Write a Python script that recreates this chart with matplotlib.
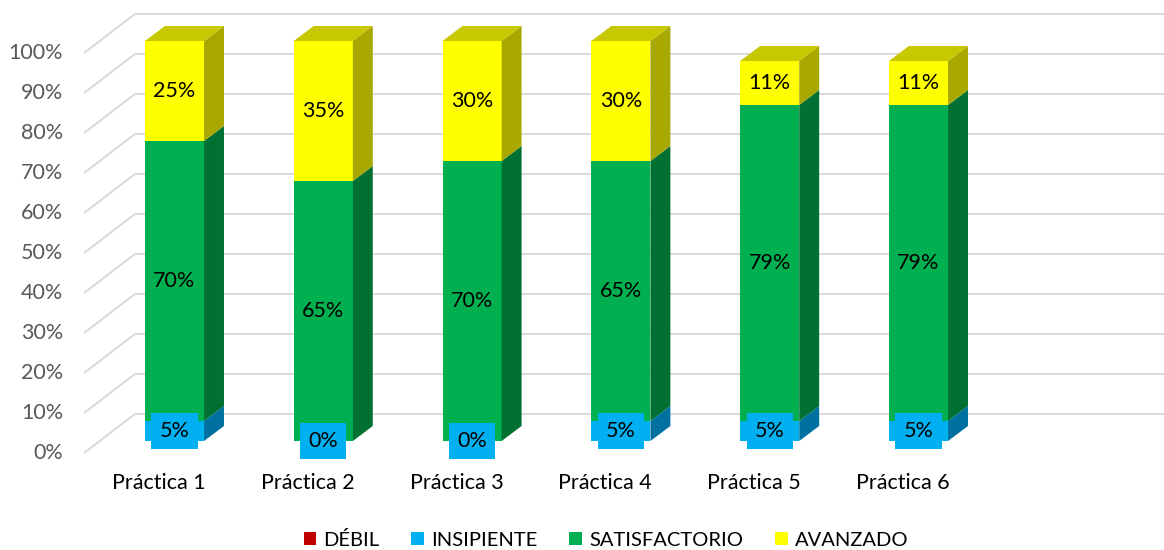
import matplotlib
matplotlib.use("Agg")
import matplotlib.pyplot as plt
from matplotlib.patches import Polygon, Patch

plt.rcParams['font.family'] = ['Lato', 'DejaVu Sans']

categories = ['Práctica 1', 'Práctica 2', 'Práctica 3', 'Práctica 4', 'Práctica 5', 'Práctica 6']
debil = [0, 0, 0, 0, 0, 0]
insipiente = [5, 0, 0, 5, 5, 5]
satisfactorio = [70, 65, 70, 65, 79, 79]
avanzado = [25, 35, 30, 30, 11, 11]
y_ticks = [0, 10, 20, 30, 40, 50, 60, 70, 80, 90, 100]

series_names = ['DÉBIL', 'INSIPIENTE', 'SATISFACTORIO', 'AVANZADO']
series_values = [debil, insipiente, satisfactorio, avanzado]
# front, side, top shades for each series
shades = [
    ('#C00000', '#8A0000', '#A00000'),
    ('#00B0F0', '#0070A0', '#0090C8'),
    ('#00B050', '#007033', '#009040'),
    ('#FFFF00', '#A8A800', '#C8C800'),
]

# oblique projection, in data units (x = category, y = percent)
BAR_W = 0.397
DEPTH_X, DEPTH_Y = 0.134, 3.75       # bar depth
FRONT_X, FRONT_Y = -0.105, -3.0      # floor front edge relative to bar front
WALL_X0, WALL_X1 = -0.608, -0.2655   # side wall, front and back edge
BACK_Y = 6.75                        # back wall rise relative to bar front
FS = 15.5

fig = plt.figure(figsize=(11.64, 5.5), dpi=100)
ax = fig.add_axes([0, 0, 1, 1])
ax.set_xlim(-1.1727, 6.6499)
ax.set_ylim(-27.25, 110.25)
ax.axis('off')

grid_c = '#D9D9D9'
for v in y_ticks:
    y0, y1 = v + FRONT_Y, v + BACK_Y
    ax.plot([WALL_X0, WALL_X1], [y0, y1], color=grid_c, lw=1.4, zorder=1, solid_capstyle='butt')
    ax.plot([WALL_X1, 7.0], [y1, y1], color=grid_c, lw=1.4, zorder=1, solid_capstyle='butt')
    ax.text(WALL_X0 - 0.14, y0, f'{v}%', ha='right', va='center', fontsize=FS, color='#595959')

for i, cat in enumerate(categories):
    left, right = i - BAR_W / 2, i + BAR_W / 2
    vals = [s[i] for s in series_values]
    top_idx = max(k for k, v in enumerate(vals) if v > 0)
    base = 0
    for k, v in enumerate(vals):
        front, side, top = shades[k]
        if v > 0:
            y0, y1 = base, base + v
            ax.add_patch(Polygon([(left, y0), (right, y0), (right, y1), (left, y1)],
                                 closed=True, fc=front, ec='none', zorder=3))
            ax.add_patch(Polygon([(right, y0), (right + DEPTH_X, y0 + DEPTH_Y),
                                  (right + DEPTH_X, y1 + DEPTH_Y), (right, y1)],
                                 closed=True, fc=side, ec='none', zorder=3))
            if k == top_idx:
                ax.add_patch(Polygon([(left, y1), (right, y1), (right + DEPTH_X, y1 + DEPTH_Y),
                                      (left + DEPTH_X, y1 + DEPTH_Y)],
                                     closed=True, fc=top, ec='none', zorder=3))
        if k > 0:
            mid = base + v / 2
            if k == 1:
                ax.text(i, mid, f'{v}%', ha='center', va='center', fontsize=FS, color='black',
                        zorder=5, bbox=dict(boxstyle='square,pad=0.38', fc=front, ec='none'))
            else:
                ax.text(i, mid, f'{v}%', ha='center', va='center', fontsize=FS,
                        color='black', zorder=5)
        base += v
    ax.text(i + FRONT_X, -10.5, cat, ha='center', va='center', fontsize=FS, color='black')

handles = [Patch(facecolor=shades[k][0], edgecolor='none') for k in range(4)]
fig.legend(handles, series_names, loc='center', bbox_to_anchor=(606 / 1164, 1 - 540 / 550),
           ncol=4, frameon=False, fontsize=14.5, handlelength=0.62, handleheight=0.62,
           handletextpad=0.35, columnspacing=1.6)

fig.savefig('out.png', dpi=100)
